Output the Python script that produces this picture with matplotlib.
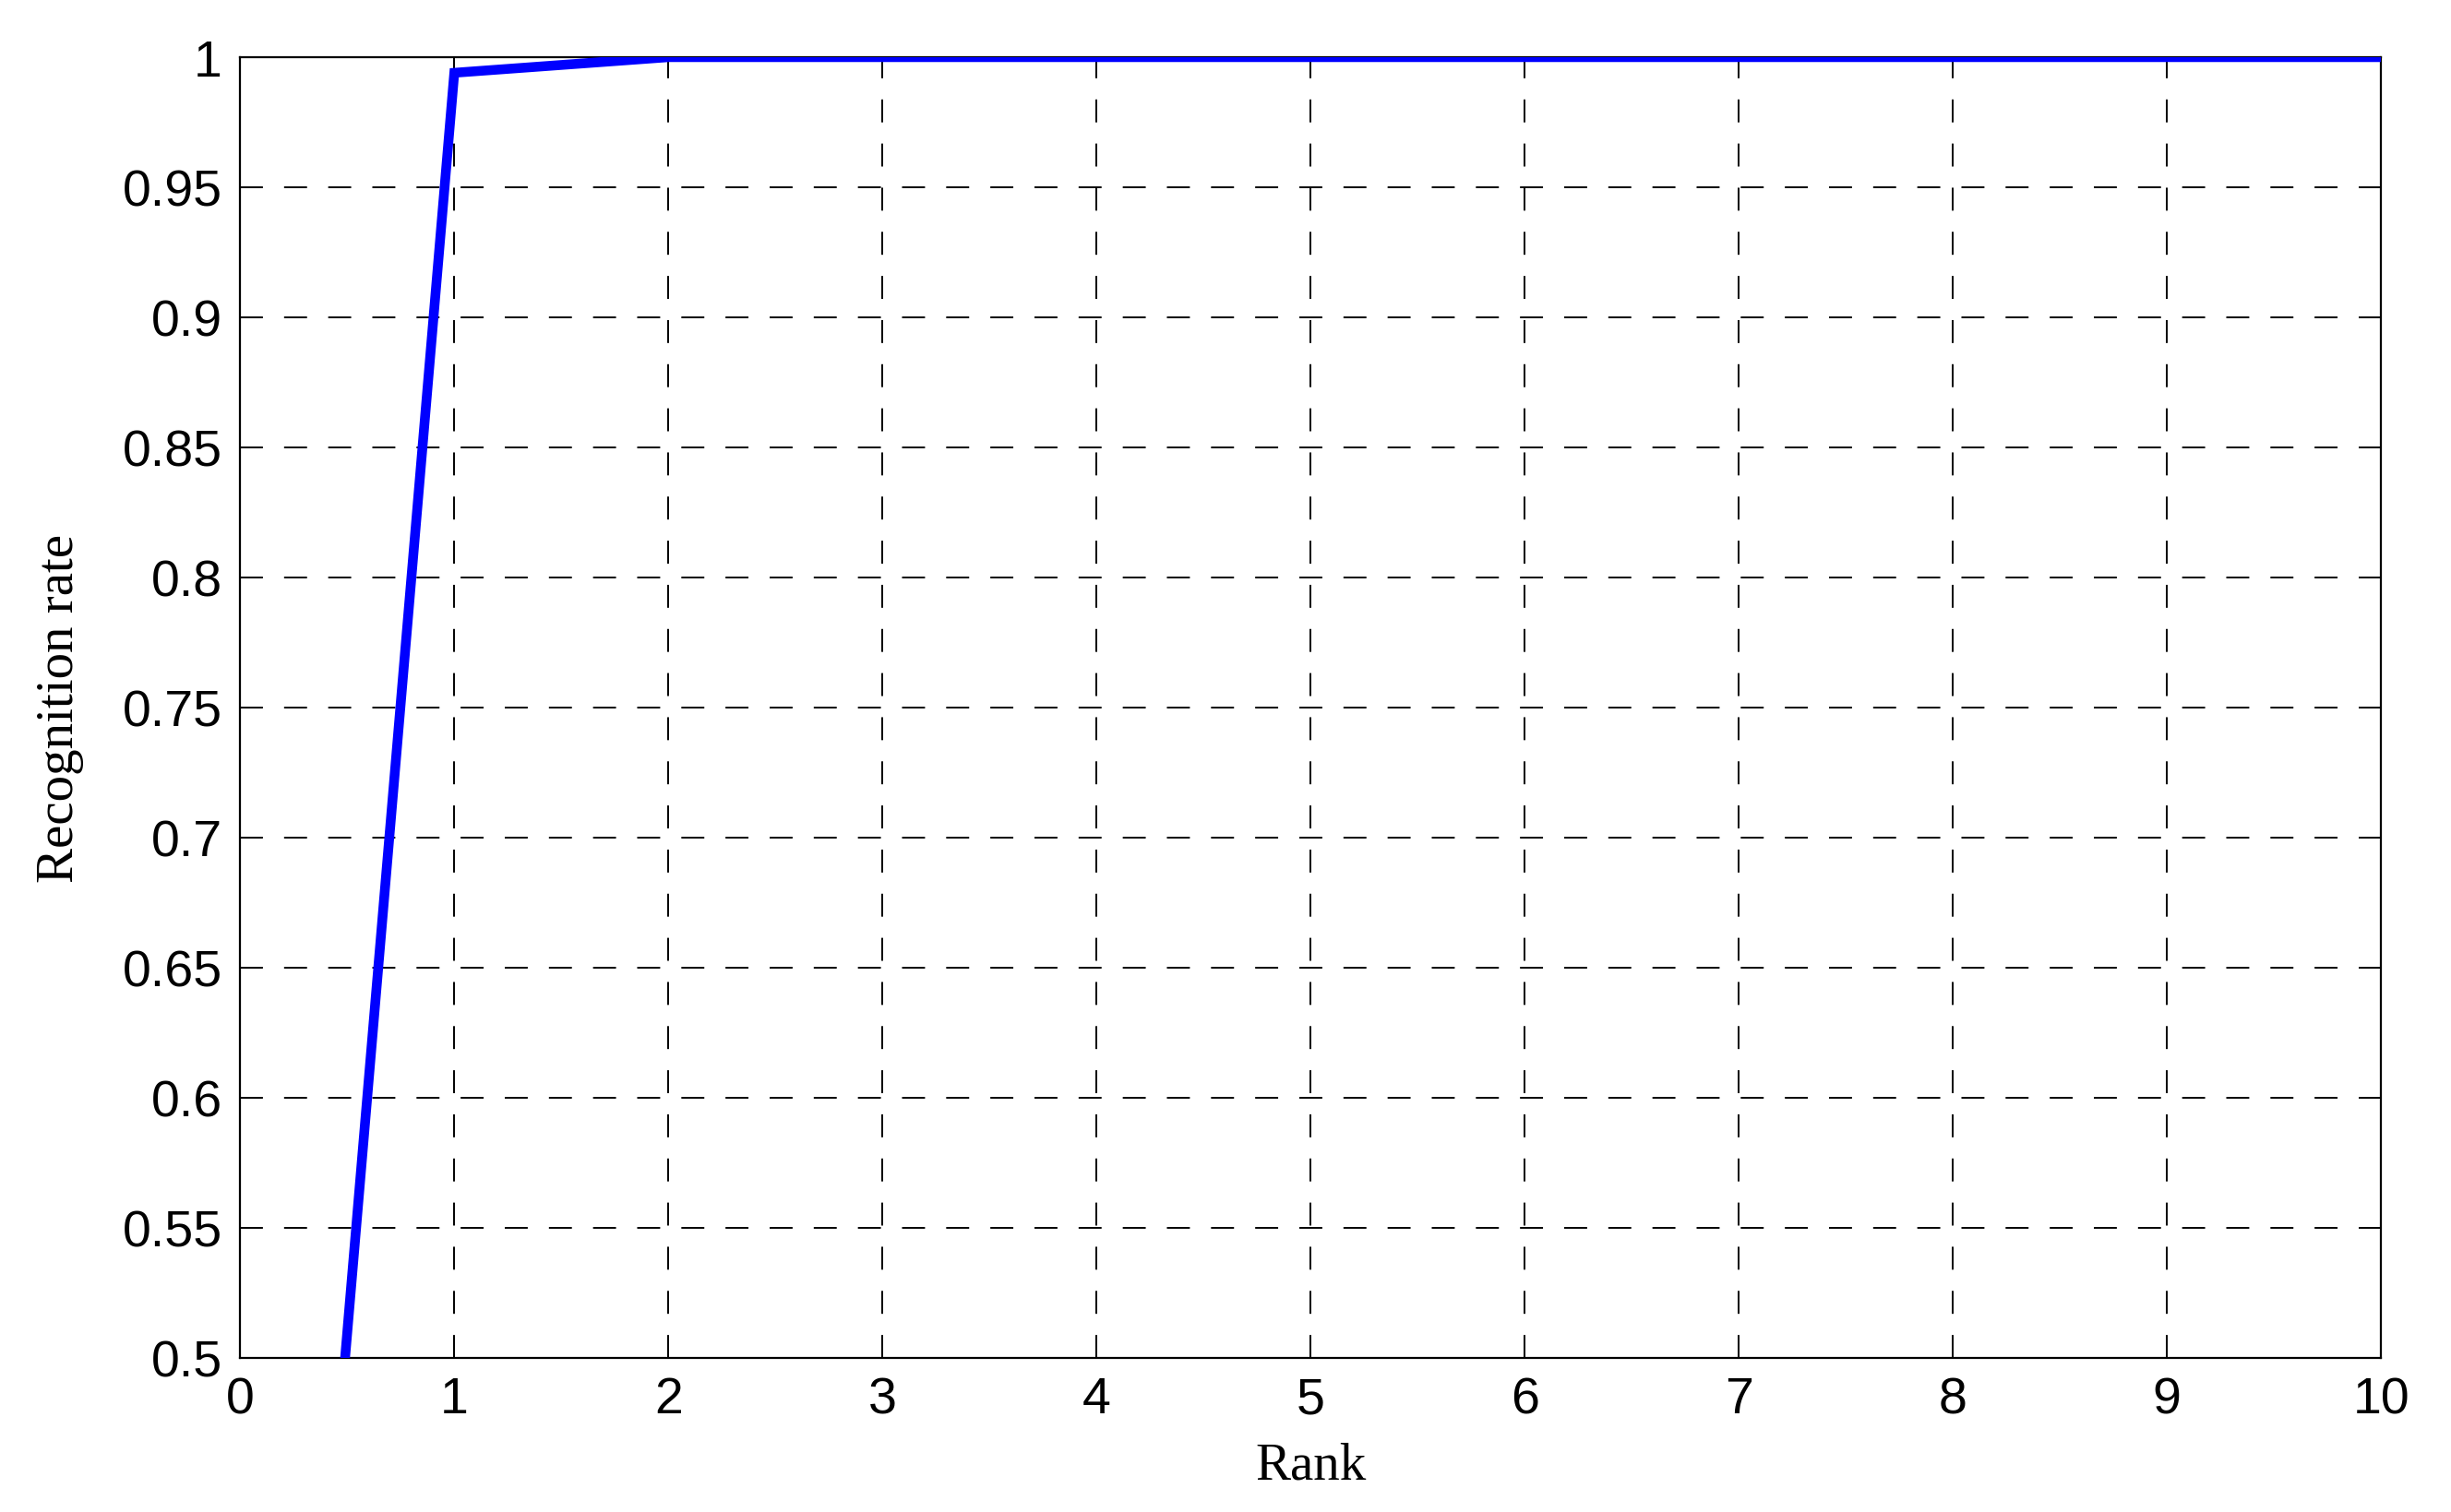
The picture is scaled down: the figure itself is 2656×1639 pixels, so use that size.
import matplotlib
matplotlib.use("Agg")
import matplotlib.pyplot as plt

# 数据
rank = [0.49, 1, 2, 3, 4, 5, 6, 7, 8, 9, 10]
recognition_rate = [0.5, 0.994, 1, 1, 1, 1, 1, 1, 1, 1, 1]
x_ticks = list(range(0, 11))
y_ticks = [0.5, 0.55, 0.6, 0.65, 0.7, 0.75, 0.8, 0.85, 0.9, 0.95, 1]
y_tick_labels = ['0.5', '0.55', '0.6', '0.65', '0.7', '0.75', '0.8', '0.85', '0.9', '0.95', '1']

fig = plt.figure(figsize=(13.28, 8.2), dpi=200)
ax = fig.add_axes([0.098, 0.102, 0.8735, 0.8596])

ax.plot(rank, recognition_rate, color='#0000ff', linewidth=3.8,
        solid_joinstyle='miter', clip_on=True, zorder=3)

ax.set_xlim(0, 10)
ax.set_ylim(0.5, 1)
ax.set_xticks(x_ticks)
ax.set_yticks(y_ticks)
ax.set_yticklabels(y_tick_labels)

# MATLAB風の枠と目盛り
for s in ax.spines.values():
    s.set_linewidth(0.8)
    s.set_color('black')
ax.tick_params(direction='in', length=8, width=0.6, top=True, right=True,
               labelsize=20, pad=7)
for lab in ax.get_xticklabels() + ax.get_yticklabels():
    lab.set_family('Liberation Sans')

ax.grid(True, color='black', linewidth=0.7, linestyle=(0, (12.8, 11.8)))
ax.set_axisbelow(True)

ax.set_xlabel('Rank', family='Liberation Serif', fontsize=20.5, labelpad=7)
ax.set_ylabel('Recognition rate', family='Liberation Serif', fontsize=20.5, labelpad=15)

fig.savefig('out.png', dpi=200)
